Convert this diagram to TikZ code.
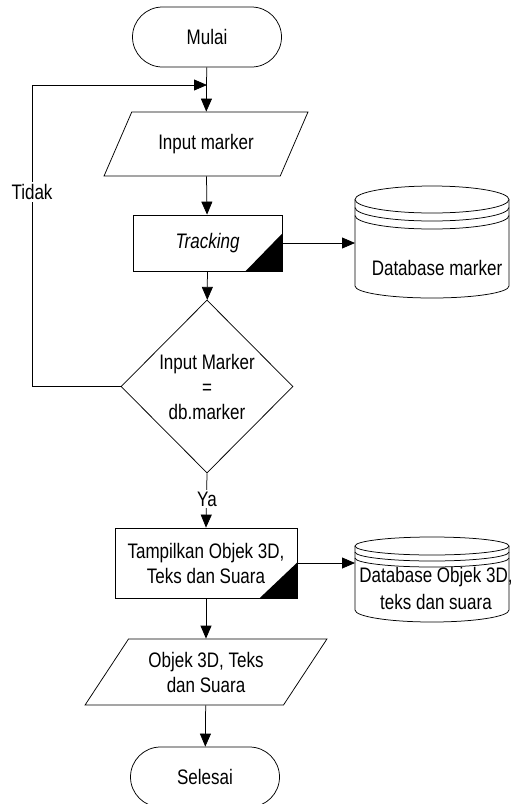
\documentclass[tikz,border=0pt]{standalone}
\usepackage{fontspec}
\setmainfont{Liberation Sans}[FakeStretch=0.81]
\usetikzlibrary{shapes.geometric,arrows.meta}

\tikzset{
  term/.style={draw, rounded corners=30pt, minimum width=149pt, minimum height=60pt},
  proc/.style={draw, minimum width=149pt, minimum height=56pt, align=center},
  io/.style={draw, trapezium, trapezium left angle=54, trapezium right angle=126,
             trapezium stretches=true, minimum height=64pt, align=center},
  cond/.style={draw, diamond, aspect=1, inner sep=0pt, minimum width=172pt,
               minimum height=173pt, align=center},
  arr/.style={-{Triangle[length=13pt,width=11pt]}},
  lbl/.style={fill=white, inner sep=2pt}
}

\begin{document}
\begin{tikzpicture}[x=1pt, y=-1pt, line width=0.75pt,
                    font=\fontsize{21}{25}\selectfont]
            \path[use as bounding box] (0,0) rectangle (512,804);
            \clip (0,0) rectangle (512,804);

            \def\drumrx{77}

            % Main flow
            \node[term] (start) at (207,37) {Mulai};
            \coordinate (join) at (207,85);
            \coordinate (loop) at (32,85);
            \node[io, minimum width=204pt] (inp) at (206,144) {Input marker};
            \node[proc] (track) at (207.5,243) {\textit{Tracking}};
            \node[cond] (dec) at (207,386.5) {Input Marker\\=\\db.marker};
            \node[proc, minimum width=182pt, minimum height=70pt, text depth=0pt] (tamp) at (206,563)
                {Tampilkan Objek 3D,\\Teks dan Suara};
            \node[io, minimum width=242pt, minimum height=66pt] (out) at (206,672)
                {Objek 3D, Teks\\dan Suara};
            \node[term] (stop) at (205,777) {Selesai};

            % Black corners of the process boxes
            \fill (track.south east) -- ++(-37,0) -- ++(37,-38) -- cycle;
            \fill (tamp.south east) -- ++(-38,0) -- ++(38,-36) -- cycle;

            % Database marker
            \draw (355,199.5) -- (355,286) arc[start angle=180, end angle=0, x radius=\drumrx, y radius=12] -- (509,199.5);
            \draw (432,199.5) ellipse[x radius=\drumrx, y radius=13.5];
            \foreach \dy in {8,16}{
                \draw (355,199.5+\dy) arc[start angle=180, end angle=0, x radius=\drumrx, y radius=13.5];
            }
            \node (dbmarker) at (437,268) {Database marker};
            \coordinate (dbmarkerL) at (355,243);

            % Database Objek 3D
            \draw (355,546) -- (355,610) arc[start angle=180, end angle=0, x radius=\drumrx, y radius=12] -- (509,546);
            \draw (432,546) ellipse[x radius=\drumrx, y radius=9];
            \foreach \dy in {6,12}{
                \draw (355,546+\dy) arc[start angle=180, end angle=0, x radius=\drumrx, y radius=9];
            }
            \node[align=center, font=\fontsize{21}{27}\selectfont] (dbobjek) at (436,588)
                {Database Objek 3D,\\teks dan suara};
            \coordinate (dbobjekL) at (355,563);

            % Connectors
            \draw[arr] (start) -- (inp);
            \draw[arr] (dec.west) -| (loop) -- (join);
            \draw[arr] (inp) -- (track);
            \draw[arr] (track) -- (dec);
            \draw[arr] (track.east) -- (dbmarkerL);
            \draw[arr] (dec.south) -- (tamp.north);
            \draw[arr] (tamp.east) -- (dbobjekL);
            \draw[arr] (tamp) -- (out);
            \draw[arr] (out) -- (stop);

            % Branch labels
            \node[lbl] (tidak) at (32,192) {Tidak};
            \node[lbl] (ya) at (207,499) {Ya};
        \end{tikzpicture}
\end{document}
